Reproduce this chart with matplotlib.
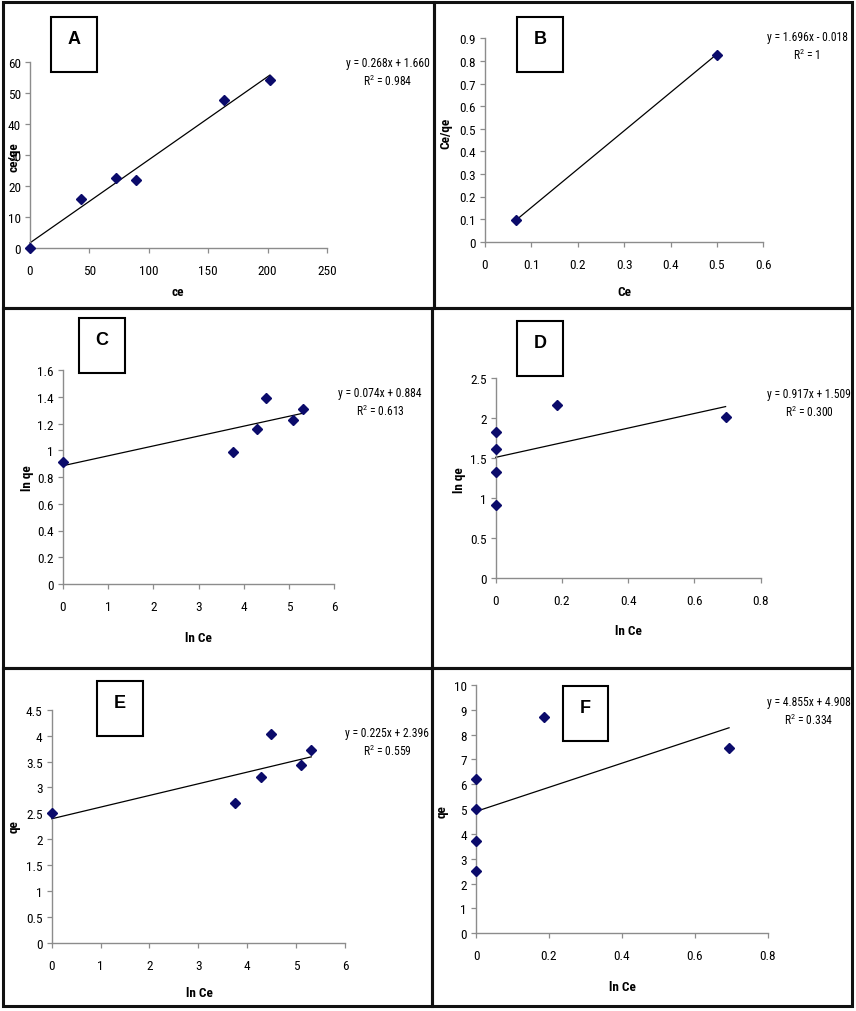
import matplotlib.pyplot as plt
from matplotlib import font_manager
from matplotlib.patches import Rectangle

# narrow font if one is installed, like the Calibri of the original
fonts = font_manager.fontManager.ttflist
names = {f.name for f in fonts}
narrow = None
for cand in ['Liberation Sans Narrow', 'Roboto Condensed', 'Open Sans Condensed',
             'Noto Sans Condensed', 'DejaVu Sans Condensed']:
    if cand in names:
        narrow = cand
        break
stretch = 'normal'
if narrow is None:
    if any(f.name == 'DejaVu Sans' and f.stretch == 'condensed' for f in fonts):
        narrow = 'DejaVu Sans'
        stretch = 'condensed'
    elif any(f.name == 'Noto Sans' and f.stretch == 'condensed' for f in fonts):
        narrow = 'Noto Sans'
        stretch = 'condensed'
    else:
        narrow = 'Liberation Sans'

plt.rcParams['font.family'] = [narrow, 'DejaVu Sans']
plt.rcParams['font.stretch'] = stretch
plt.rcParams['mathtext.fontset'] = 'custom'
plt.rcParams['mathtext.rm'] = narrow

W, H = 856, 1012

# panel A: Langmuir (ce vs ce/qe)
a_x = [0, 43, 72.5, 89, 163.5, 202]
a_y = [0, 15.7, 22.6, 21.9, 47.6, 54.3]
a_fit = (0.268, 1.660)

# panel B
b_x = [0.067, 0.5]
b_y = [0.094, 0.828]
b_fit = (1.696, -0.018)

# panel C: ln Ce vs ln qe
c_x = [0, 3.755, 4.285, 4.484, 5.094, 5.315]
c_y = [0.914, 0.987, 1.157, 1.391, 1.229, 1.308]
c_fit = (0.074, 0.884)

# panel D
d_x = [0, 0, 0, 0, 0.185, 0.694]
d_y = [1.83, 1.61, 1.32, 0.915, 2.165, 2.015]
d_fit = (0.917, 1.509)

# panel E: ln Ce vs qe
e_x = [0, 3.755, 4.287, 4.485, 5.10, 5.31]
e_y = [2.51, 2.70, 3.20, 4.04, 3.43, 3.72]
e_fit = (0.225, 2.396)

# panel F
f_x = [0, 0, 0, 0, 0.1865, 0.694]
f_y = [6.23, 4.99, 3.73, 2.50, 8.71, 7.47]
f_fit = (4.855, 4.908)

fig = plt.figure(figsize=(W / 100, H / 100), dpi=100)


def fx(px):
    return px / W


def fy(py):
    return 1 - py / H


def frame(x0, y0, x1, y1, lw=2.2):
    fig.patches.append(Rectangle((fx(x0), fy(y1)), fx(x1) - fx(x0), fy(y0) - fy(y1),
                                 transform=fig.transFigure, fill=False,
                                 edgecolor='#111111', linewidth=lw))


def panel(box, xs, ys, fit, xlim, ylim, xticks, yticks, xlabel, ylabel,
          letter, lbox, eq, eqpos, xlpos, ylpos):
    l, t, r, b = box
    ax = fig.add_axes([fx(l), fy(b), fx(r) - fx(l), fy(t) - fy(b)])
    ax.set_facecolor('none')
    ax.plot(xs, ys, linestyle='none', marker='D', markersize=5.2,
            color='#0b0b6b', clip_on=False, zorder=3)
    x_start, x_end = min(xs), max(xs)
    ax.plot([x_start, x_end], [fit[0] * x_start + fit[1], fit[0] * x_end + fit[1]],
            color='black', linewidth=0.9, clip_on=False)
    ax.set_xlim(xlim)
    ax.set_ylim(ylim)
    ax.set_xticks(xticks)
    ax.set_yticks(yticks)
    ax.set_xticklabels([('%g' % v) for v in xticks])
    ax.set_yticklabels([('%g' % v) for v in yticks])
    for s in ['top', 'right']:
        ax.spines[s].set_visible(False)
    for s in ['left', 'bottom']:
        ax.spines[s].set_color('#8c8c8c')
        ax.spines[s].set_linewidth(1.0)
    ax.tick_params(direction='out', length=3.5, width=0.9, color='#8c8c8c',
                   labelsize=9.5, pad=8)
    ax.tick_params(axis='y', pad=3)

    # letter box
    x0, y0, x1, y1 = lbox
    fig.patches.append(Rectangle((fx(x0), fy(y1)), fx(x1) - fx(x0), fy(y0) - fy(y1),
                                 transform=fig.transFigure, fill=True,
                                 facecolor='white', edgecolor='black',
                                 linewidth=1.5, zorder=3))
    fig.text(fx((x0 + x1) / 2), fy(y0 + 22), letter, ha='center', va='center',
             family='Liberation Sans', stretch='normal', fontweight='bold',
             fontsize=13, zorder=4)

    fig.text(fx(eqpos[0]), fy(eqpos[1]), eq, ha='center', va='center',
             fontsize=8.4, linespacing=1.35)
    fig.text(fx(xlpos[0]), fy(xlpos[1]), xlabel, ha='center', va='center',
             fontsize=9.5, fontweight='bold')
    fig.text(fx(ylpos[0]), fy(ylpos[1]), ylabel, ha='center', va='center',
             fontsize=9.5, fontweight='bold', rotation=90)
    return ax


# panel frames
frame(3, 3, 434, 309)
frame(434, 3, 852, 309)
frame(3, 309, 432, 669)
frame(432, 309, 852, 669)
frame(3, 669, 432, 1007)
frame(432, 669, 852, 1007)

panel((30, 63, 327, 249), a_x, a_y, a_fit, (0, 250), (0, 60),
      [0, 50, 100, 150, 200, 250], [0, 10, 20, 30, 40, 50, 60],
      'ce', 'ce/qe', 'A', (51, 18, 97, 73),
      'y = 0.268x + 1.660\nR$^2$ = 0.984', (388, 73), (178, 293), (14, 157))

panel((485, 39.3, 763.3, 242.7), b_x, b_y, b_fit, (0, 0.6), (0, 0.9),
      [0, 0.1, 0.2, 0.3, 0.4, 0.5, 0.6],
      [0, 0.1, 0.2, 0.3, 0.4, 0.5, 0.6, 0.7, 0.8, 0.9],
      'Ce', 'Ce/qe', 'B', (517, 18, 563, 73),
      'y = 1.696x - 0.018\nR$^2$ = 1', (807, 47), (624, 293), (446, 133))

panel((62.7, 371, 334.3, 585), c_x, c_y, c_fit, (0, 6), (0, 1.6),
      [0, 1, 2, 3, 4, 5, 6], [0, 0.2, 0.4, 0.6, 0.8, 1, 1.2, 1.4, 1.6],
      'ln Ce', 'ln qe', 'C', (79, 319, 125, 374),
      'y = 0.074x + 0.884\nR$^2$ = 0.613', (380, 403), (198, 639), (27, 478))

panel((495.7, 379.3, 760.7, 578.7), d_x, d_y, d_fit, (0, 0.8), (0, 2.5),
      [0, 0.2, 0.4, 0.6, 0.8], [0, 0.5, 1, 1.5, 2, 2.5],
      'ln Ce', 'ln qe', 'D', (517, 322, 563, 377),
      'y = 0.917x + 1.509\nR$^2$ = 0.300', (809, 404), (628, 632), (460, 480))

panel((51.7, 710.7, 345, 944), e_x, e_y, e_fit, (0, 6), (0, 4.5),
      [0, 1, 2, 3, 4, 5, 6], [0, 0.5, 1, 1.5, 2, 2.5, 3, 3.5, 4, 4.5],
      'ln Ce', 'qe', 'E', (97, 682, 143, 737),
      'y = 0.225x + 2.396\nR$^2$ = 0.559', (387, 743), (199, 994), (14, 827))

panel((476, 686, 767.7, 934.3), f_x, f_y, f_fit, (0, 0.8), (0, 10),
      [0, 0.2, 0.4, 0.6, 0.8], list(range(0, 11)),
      'ln Ce', 'qe', 'F', (563, 687, 608, 742),
      'y = 4.855x + 4.908\nR$^2$ = 0.334', (809, 712), (622, 988), (442, 812))

fig.savefig('out.png', dpi=100)
